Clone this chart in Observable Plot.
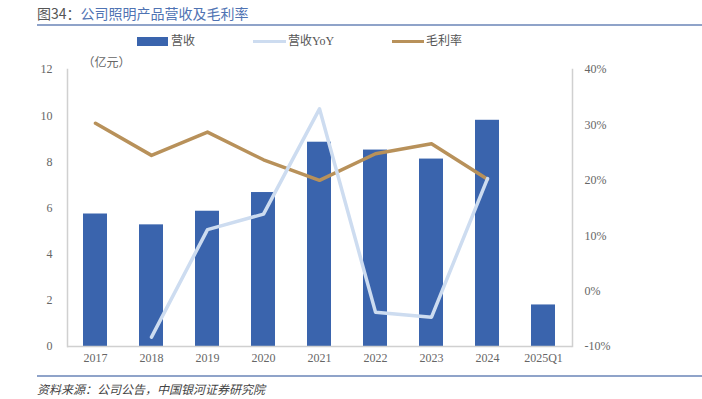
<!DOCTYPE html>
<html><head><meta charset="utf-8">
<script src="https://cdn.jsdelivr.net/npm/d3@7"></script>
<script src="https://cdn.jsdelivr.net/npm/@observablehq/plot@0.6"></script>
<style>
body{margin:0;background:#fff;width:702px;height:399px;position:relative;overflow:hidden;font-family:"Liberation Serif","Noto Sans CJK SC",serif;}
#title{position:absolute;left:37px;top:3px;width:665px;height:21px;border-bottom:2px solid #8fa3c9;font-family:"Noto Sans CJK SC",sans-serif;font-size:14px;line-height:20px;}
#title .n{color:#555;}
#title .t{color:#4f73b3;}
#legend{position:absolute;left:0;top:32px;width:702px;height:18px;font-size:12px;color:#555;}
.li{position:absolute;top:0;height:18px;line-height:18px;font-family:"Liberation Serif","Noto Sans CJK SC",serif;}
.sw{position:absolute;}
#chart{position:absolute;left:0;top:52px;}
#rule{position:absolute;left:37px;top:375px;width:665px;height:0;border-top:2px solid #8fa3c9;}
#src{position:absolute;left:37px;top:380px;font-size:12px;font-style:italic;color:#444;font-family:"Noto Sans CJK SC",sans-serif;line-height:18px;}
</style></head><body>
<div id="title"><span class="n">图34：</span><span class="t">公司照明产品营收及毛利率</span></div>
<div id="legend">
  <div class="sw" style="left:137px;top:5px;width:31px;height:9px;background:#3a64ad"></div>
  <div class="li" style="left:171px">营收</div>
  <div class="sw" style="left:253px;top:8px;width:33px;height:3px;background:#cddcf0"></div>
  <div class="li" style="left:288px">营收YoY</div>
  <div class="sw" style="left:392px;top:8px;width:32px;height:3px;background:#b8915a"></div>
  <div class="li" style="left:426px">毛利率</div>
</div>
<div id="chart"></div>
<div id="rule"></div>
<div id="src">资料来源：公司公告，中国银河证券研究院</div>
<script>
const years = ["2017","2018","2019","2020","2021","2022","2023","2024","2025Q1"];
const revenue = [5.74, 5.27, 5.86, 6.67, 8.85, 8.51, 8.12, 9.80, 1.80];
const yoy = [null, -8.3, 11.1, 13.9, 32.9, -3.8, -4.7, 20.3, null];
const margin = [30.3, 24.5, 28.7, 23.7, 20.0, 24.8, 26.6, 20.2, null];
const leftTicks = [0, 2, 4, 6, 8, 10, 12];
const rightTicks = [-10, 0, 10, 20, 30, 40];

const toY = p => (p + 10) / 50 * 12;
const bars = years.map((c, i) => ({c, v: revenue[i]}));
const yoyData = years.map((c, i) => ({c, v: yoy[i]})).filter(d => d.v != null);
const marginData = years.map((c, i) => ({c, v: margin[i]})).filter(d => d.v != null);

const font = '"Liberation Serif","Noto Sans CJK SC",serif';
const chart = Plot.plot({
  width: 702, height: 318,
  marginLeft: 67, marginRight: 130, marginTop: 17, marginBottom: 24,
  style: {fontFamily: font, fontSize: "12px", color: "#666", background: "transparent"},
  x: {domain: years, paddingInner: 0.57, paddingOuter: 0.285, label: null},
  y: {domain: [0, 12], label: null},
  marks: [
    Plot.barY(bars, {x: "c", y: "v", fill: "#3a64ad"}),
    Plot.line(marginData, {x: "c", y: d => toY(d.v), stroke: "#b8915a", strokeWidth: 3.5, curve: "linear"}),
    Plot.line(yoyData, {x: "c", y: d => toY(d.v), stroke: "#cddcf0", strokeWidth: 3.5, curve: "linear"}),
    Plot.axisX({ticks: years, tickSize: 0, tickPadding: 7, fill: "#666", fontSize: 12}),
    Plot.axisY({ticks: leftTicks, tickSize: 0, tickPadding: 15, fill: "#666", fontSize: 12, label: null}),
    Plot.axisY({anchor: "right", ticks: rightTicks.map(toY), tickFormat: (d, i) => rightTicks[i] + "%", tickSize: 0, tickPadding: 12, fill: "#666", fontSize: 12, label: null}),
    Plot.ruleY([0], {stroke: "#d0d0d0", strokeWidth: 1.5}),
    Plot.frame({anchor: "left", stroke: "#d0d0d0", strokeWidth: 1.5}),
    Plot.frame({anchor: "right", stroke: "#d0d0d0", strokeWidth: 1.5}),
    Plot.text(["（亿元）"], {frameAnchor: "top-left", dx: 15, dy: -11, fill: "#666", fontSize: 12, fontFamily: '"Noto Sans CJK SC",sans-serif', textAnchor: "start"})
  ]
});
document.getElementById("chart").appendChild(chart);
</script>
</body></html>
